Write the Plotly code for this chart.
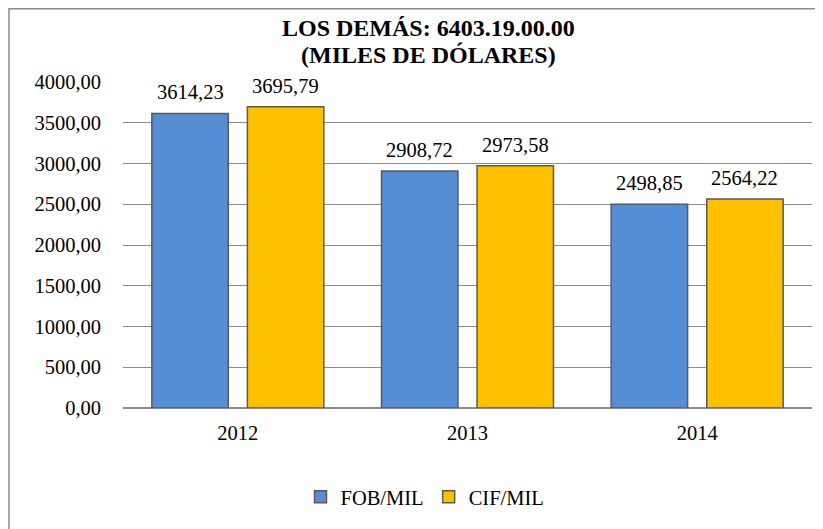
import plotly.graph_objects as go

# data
years = ["2012", "2013", "2014"]
fob = [3614.23, 2908.72, 2498.85]
cif = [3695.79, 2973.58, 2564.22]
y_ticks = [0, 500, 1000, 1500, 2000, 2500, 3000, 3500, 4000]
title_lines = ["LOS DEMÁS: 6403.19.00.00", "(MILES DE DÓLARES)"]

font = "Liberation Serif"
bargap = 0.168
groupgap = 0.2

fig = go.Figure()
fig.add_trace(go.Bar(x=years, y=fob, name="FOB/MIL",
                     marker=dict(color="#558ED5", line=dict(color="#595959", width=1.5))))
fig.add_trace(go.Bar(x=years, y=cif, name="CIF/MIL",
                     marker=dict(color="#FFC000", line=dict(color="#595959", width=1.5))))

# data labels above each bar (excel puts them a bit higher than plotly's outside text)
slot = (1 - bargap) / 2
for i in range(len(years)):
    for vals, off in ((fob, -slot / 2), (cif, slot / 2)):
        fig.add_annotation(x=i + off, y=vals[i], text=f"{vals[i]:.2f}".replace(".", ","),
                           showarrow=False, yanchor="bottom", yshift=8,
                           font=dict(family=font, size=20.5, color="black"))

# two line title, tighter line spacing than plotly's title
for txt, ypos in zip(title_lines, [1.1656, 1.0828]):
    fig.add_annotation(xref="paper", yref="paper", x=0.4427, y=ypos, text=f"<b>{txt}</b>",
                       showarrow=False, xanchor="center", yanchor="middle",
                       font=dict(family=font, size=24, color="black"))

# chart area border
fig.add_shape(type="rect", xref="paper", yref="paper",
              x0=-0.1655, x1=1.2, y0=-0.6, y1=1.2247,
              line=dict(color="#8c8c8c", width=1.5), fillcolor="rgba(0,0,0,0)")

fig.update_xaxes(showgrid=False, showline=False, ticks="", ticklabelstandoff=10,
                 tickfont=dict(family=font, size=20.5, color="black"))
fig.update_yaxes(range=[0, 4000], tickvals=y_ticks, tickformat=".2f",
                 showgrid=True, gridcolor="#8c8c8c", gridwidth=1.3,
                 zeroline=True, zerolinecolor="#8c8c8c", zerolinewidth=1.5,
                 showline=False, ticks="", ticklen=0, ticklabelstandoff=21,
                 tickfont=dict(family=font, size=20.5, color="black"))

fig.update_layout(
    width=815, height=521,
    margin=dict(l=115, r=11, t=74, b=121),
    paper_bgcolor="white", plot_bgcolor="white",
    font=dict(family=font),
    separators=",.",
    barmode="group", bargap=bargap, bargroupgap=groupgap,
    legend=dict(orientation="h", x=0.4383, xanchor="center", y=-0.273, yanchor="middle",
                font=dict(family=font, size=20.5, color="black"),
                itemwidth=30, traceorder="normal"),
    showlegend=True,
)

fig.write_html("out.html")
